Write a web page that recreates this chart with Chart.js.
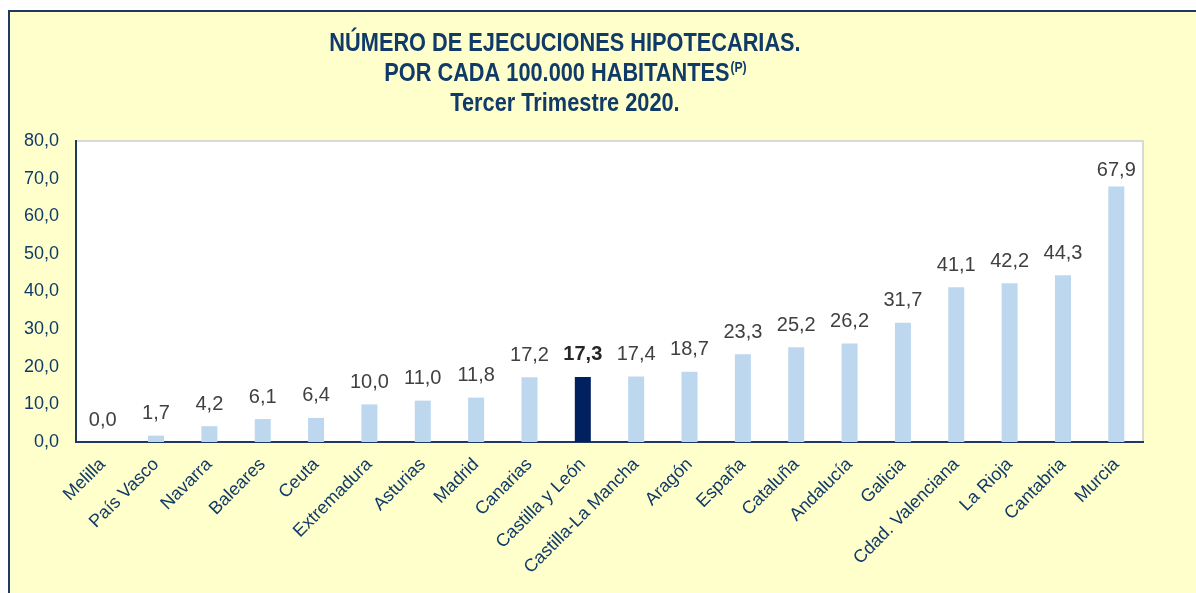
<!DOCTYPE html>
<html>
<head>
<meta charset="utf-8">
<script src="https://cdn.jsdelivr.net/npm/chart.js@4.4.1/dist/chart.umd.min.js"></script>
<style>
  html, body { margin: 0; padding: 0; background: #ffffff; width: 1196px; height: 593px; overflow: hidden; }
  #frame { position: absolute; left: 8px; top: 10px; width: 1300px; height: 700px; border: 2px solid #1F3864; background: #FFFFCC; box-sizing: border-box; }
  #wrap { position: absolute; left: 0; top: 0; width: 1196px; height: 593px; }
</style>
</head>
<body>
<div id="frame"></div>
<div id="wrap"><canvas id="c" width="1196" height="593"></canvas></div>
<script>
// ---- data ----
const categories = ['Melilla', 'País Vasco', 'Navarra', 'Baleares', 'Ceuta', 'Extremadura', 'Asturias', 'Madrid', 'Canarias', 'Castilla y León', 'Castilla-La Mancha', 'Aragón', 'España', 'Cataluña', 'Andalucía', 'Galicia', 'Cdad. Valenciana', 'La Rioja', 'Cantabria', 'Murcia'];
const values = [0.0, 1.7, 4.2, 6.1, 6.4, 10.0, 11.0, 11.8, 17.2, 17.3, 17.4, 18.7, 23.3, 25.2, 26.2, 31.7, 41.1, 42.2, 44.3, 67.9];
const highlighted = ['Castilla y León'];
const yTicks = [0, 10, 20, 30, 40, 50, 60, 70, 80];
const titleLines = ['NÚMERO DE EJECUCIONES HIPOTECARIAS.', 'POR CADA 100.000 HABITANTES', 'Tercer Trimestre 2020.'];
const titleSuperscript = '(P)';

const NAVY = '#103A68';
const FONT = '"Liberation Sans", Arial, sans-serif';
const fmt = v => v.toFixed(1).replace('.', ',');

const plotBg = {
  id: 'plotBg',
  beforeDraw(chart) {
    const { ctx, chartArea: a } = chart;
    ctx.save();
    ctx.fillStyle = '#ffffff';
    ctx.fillRect(a.left, a.top, a.right - a.left, a.bottom - a.top);
    ctx.strokeStyle = '#D9D9D9';
    ctx.lineWidth = 2;
    ctx.beginPath();
    ctx.moveTo(a.left, a.top);
    ctx.lineTo(a.right, a.top);
    ctx.lineTo(a.right, a.bottom);
    ctx.stroke();
    ctx.restore();
  }
};

const titlePlugin = {
  id: 'titleDraw',
  afterDraw(chart) {
    const ctx = chart.ctx;
    const cx = 565;
    const sx = 0.87;
    const baselines = [51, 81, 111];
    const big = 'bold 25px ' + FONT;
    const small = 'bold 14px ' + FONT;
    ctx.save();
    ctx.fillStyle = NAVY;
    ctx.textBaseline = 'alphabetic';
    ctx.translate(cx, 0);
    ctx.scale(sx, 1);
    ctx.font = big;
    ctx.textAlign = 'center';
    ctx.fillText(titleLines[0], 0, baselines[0]);
    ctx.fillText(titleLines[2], 0, baselines[2]);
    const w2 = ctx.measureText(titleLines[1]).width;
    ctx.font = small;
    const ws = ctx.measureText(titleSuperscript).width;
    const start = -(w2 + ws) / 2;
    ctx.textAlign = 'left';
    ctx.font = big;
    ctx.fillText(titleLines[1], start, baselines[1]);
    ctx.font = small;
    ctx.fillText(titleSuperscript, start + w2 + 1, baselines[1] - 9);
    ctx.restore();
  }
};

const valueLabels = {
  id: 'valueLabels',
  afterDatasetsDraw(chart) {
    const ctx = chart.ctx;
    const meta = chart.getDatasetMeta(0);
    ctx.save();
    ctx.textAlign = 'center';
    ctx.textBaseline = 'bottom';
    meta.data.forEach((bar, i) => {
      const bold = highlighted.includes(categories[i]);
      ctx.font = (bold ? 'bold ' : '') + '20px ' + FONT;
      ctx.fillStyle = bold ? '#262626' : '#404040';
      const gap = values[i] > 60 ? 6 : 12;
      ctx.fillText(fmt(values[i]), bar.x, bar.y - gap);
    });
    ctx.restore();
  }
};

new Chart(document.getElementById('c'), {
  type: 'bar',
  data: {
    labels: categories,
    datasets: [{
      data: values,
      backgroundColor: categories.map(c => highlighted.includes(c) ? '#002060' : '#BDD7EE'),
      borderWidth: 0,
      barPercentage: 0.3,
      categoryPercentage: 1.0
    }]
  },
  options: {
    responsive: false,
    animation: false,
    events: [],
    layout: { padding: { top: 141, right: 53, left: 0, bottom: 0 } },
    plugins: { legend: { display: false }, tooltip: { enabled: false }, title: { display: false } },
    scales: {
      x: {
        grid: { display: false, drawTicks: false },
        border: { display: true, color: '#1F3864', width: 2 },
        ticks: {
          color: NAVY,
          font: { family: FONT, size: 18 },
          minRotation: 45, maxRotation: 45,
          padding: 12,
          autoSkip: false
        },
        afterFit(scale) { scale.height = 151; }
      },
      y: {
        min: 0, max: 80,
        afterBuildTicks(scale) { scale.ticks = yTicks.map(v => ({ value: v })); },
        grid: { display: false, drawTicks: false },
        border: { display: true, color: '#1F3864', width: 2 },
        ticks: {
          color: NAVY,
          font: { family: FONT, size: 18 },
          padding: 17,
          callback: v => fmt(v)
        },
        afterFit(scale) { scale.width = 76; }
      }
    }
  },
  plugins: [plotBg, valueLabels, titlePlugin]
});
</script>
</body>
</html>
